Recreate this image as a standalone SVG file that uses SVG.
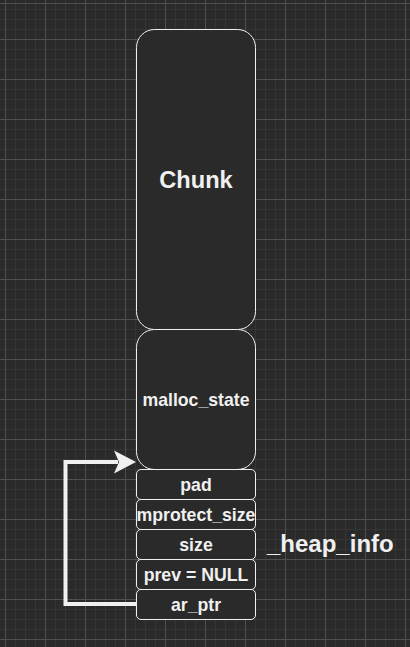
<svg xmlns="http://www.w3.org/2000/svg" width="410" height="647" viewBox="0 0 410 647">
  <defs>
    <pattern id="grid" x="5" y="-1" width="40" height="40" patternUnits="userSpaceOnUse">
      <path d="M0 10.5H40M0 20.5H40M0 30.5H40M10.5 0V40M20.5 0V40M30.5 0V40" stroke="#353535" stroke-width="1" fill="none"/>
      <path d="M0 0.5H40M0.5 0V40" stroke="#4f4f4f" stroke-width="1" fill="none"/>
    </pattern>
    <marker id="arrow" viewBox="0 0 22 24" refX="22" refY="12" markerWidth="22" markerHeight="24" markerUnits="userSpaceOnUse" orient="auto">
      <path d="M22 12L0 0.5L5 12L0 23.5Z" fill="#f0f0f0"/>
    </marker>
    <style>
      .box { fill: #2a2a2a; stroke: #f0f0f0; stroke-width: 1; }
      .lbl { font-family: "Liberation Sans", Arial, sans-serif; font-weight: bold; fill: #f0f0f0; text-anchor: middle; }
      .small { font-size: 17.7px; }
    </style>
  </defs>
  <rect width="410" height="647" fill="#2a2a2a"/>
  <rect width="410" height="647" fill="url(#grid)"/>
  <path d="M0 3.5H410" stroke="#4f4f4f" stroke-width="1"/>

  <g id="connectors">
    <path d="M136 604H65.5V462H118" fill="none" stroke="#f0f0f0" stroke-width="4"/>
    <path d="M136 462L114 450.5L119 462L114 473.5Z" fill="#f0f0f0"/>
  </g>

  <g id="chunk">
    <rect class="box" x="136.5" y="29.5" width="119" height="300" rx="18" ry="18"/>
    <text class="lbl" x="196" y="188" font-size="23.6">Chunk</text>
  </g>
  <g id="malloc_state">
    <rect class="box" x="136.5" y="329.5" width="119" height="140" rx="18" ry="18"/>
    <text class="lbl small" x="196" y="405.5">malloc_state</text>
  </g>
  <g id="pad">
    <rect class="box" x="136.5" y="469.5" width="119" height="30" rx="4.5" ry="4.5"/>
    <text class="lbl small" x="196" y="491">pad</text>
  </g>
  <g id="mprotect_size">
    <rect class="box" x="136.5" y="499.5" width="119" height="30" rx="4.5" ry="4.5"/>
    <text class="lbl small" x="196" y="521">mprotect_size</text>
  </g>
  <g id="size">
    <rect class="box" x="136.5" y="529.5" width="119" height="30" rx="4.5" ry="4.5"/>
    <text class="lbl small" x="196" y="551">size</text>
  </g>
  <g id="prev">
    <rect class="box" x="136.5" y="559.5" width="119" height="30" rx="4.5" ry="4.5"/>
    <text class="lbl small" x="196" y="581">prev = NULL</text>
  </g>
  <g id="ar_ptr">
    <rect class="box" x="136.5" y="589.5" width="119" height="30" rx="4.5" ry="4.5"/>
    <text class="lbl small" x="196" y="611">ar_ptr</text>
  </g>
  <g id="heap_info">
    <text class="lbl" x="267" y="552" font-size="24" text-anchor="start" style="text-anchor:start">_heap_info</text>
  </g>
</svg>
